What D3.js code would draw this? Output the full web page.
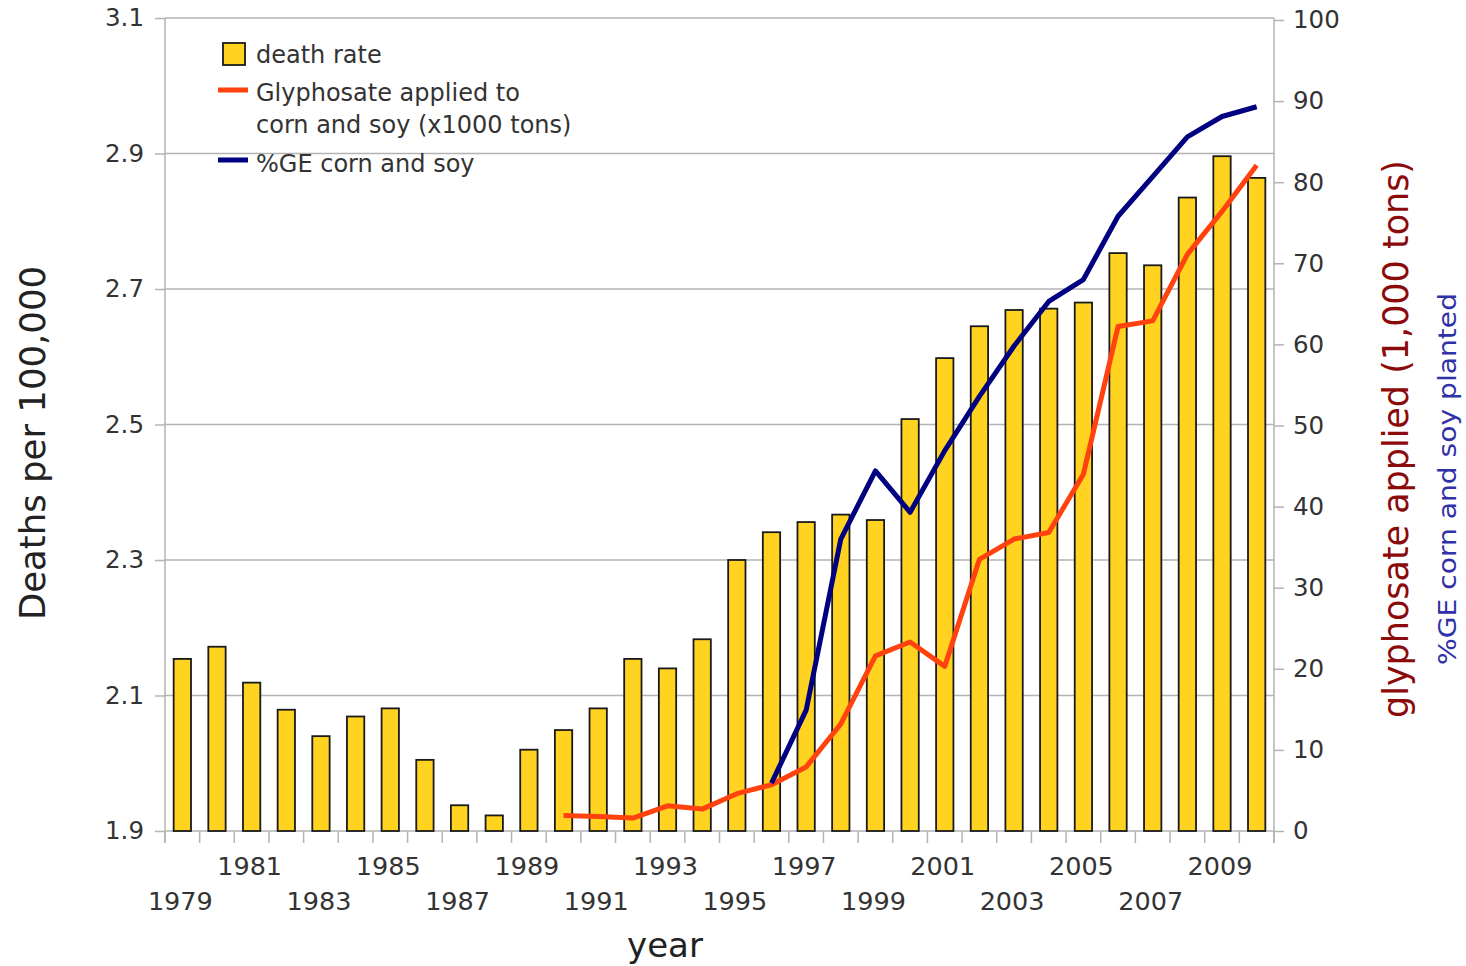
<!DOCTYPE html>
<html>
<head>
<meta charset="utf-8">
<script src="https://cdn.jsdelivr.net/npm/d3@7"></script>
<style>
  html, body { margin: 0; padding: 0; background: #ffffff; }
  svg { display: block; font-family: "DejaVu Sans", sans-serif; }
</style>
</head>
<body>
<svg id="chart" width="1466" height="966"></svg>
<script>
// ---- data ----
const years = d3.range(1979, 2011);
const deathRate = [2.154, 2.172, 2.119, 2.079, 2.040, 2.069, 2.081, 2.005, 1.938, 1.923,
                   2.020, 2.049, 2.081, 2.154, 2.140, 2.183, 2.300, 2.341, 2.356, 2.367,
                   2.359, 2.508, 2.598, 2.645, 2.669, 2.671, 2.680, 2.753, 2.735, 2.835,
                   2.896, 2.864];
const glyphYears = d3.range(1990, 2011);
const glyphosate = [1.9, 1.8, 1.6, 3.1, 2.7, 4.6, 5.7, 7.9, 13.2, 21.6,
                    23.3, 20.3, 33.5, 36.0, 36.8, 44.0, 62.2, 62.9, 71.1, 76.4, 82.1];
const geYears = d3.range(1996, 2011);
const gePercent = [5.9, 14.9, 36.0, 44.4, 39.3, 46.9, 53.6, 59.8, 65.3, 68.0,
                   75.8, 80.7, 85.6, 88.1, 89.3];
const leftTicks = [1.9, 2.1, 2.3, 2.5, 2.7, 2.9, 3.1];
const rightTicks = d3.range(0, 101, 10);
const legendLabels = ["death rate", ["Glyphosate applied to", "corn and soy (x1000 tons)"], "%GE corn and soy"];

// ---- layout ----
const svg = d3.select("#chart");
const L = 165, R = 1274, T = 18, B = 831;
const textCol = "#333333", gridCol = "#b3b3b3";
const barFill = "#ffd320", redCol = "#ff420e", blueCol = "#000080";

const x = d3.scaleBand().domain(years).range([L, R]).paddingInner(0.5).paddingOuter(0.25);
const step = x.step();
const cx = d => x(d) + x.bandwidth() / 2;
const yL = d3.scaleLinear().domain([1.9, 3.1]).range([B, T]);
const yR = d3.scaleLinear().domain([0, 100]).range([B, T + 2]);

// gridlines
svg.append("g").selectAll("line").data(leftTicks).join("line")
  .attr("x1", L).attr("x2", R)
  .attr("y1", d => yL(d)).attr("y2", d => yL(d))
  .attr("stroke", gridCol).attr("stroke-width", 1.5);

// left axis
const gL = svg.append("g").attr("transform", `translate(${L},0)`)
  .call(d3.axisLeft(yL).tickValues(leftTicks).tickSize(10).tickPadding(11).tickFormat(d3.format(".1f")));
gL.select(".domain").attr("stroke", gridCol).attr("stroke-width", 1.5).attr("d", `M0,${T}V${B + 12}`);
gL.selectAll(".tick line").attr("stroke", gridCol).attr("stroke-width", 1.5);
gL.selectAll(".tick text").attr("fill", textCol).style("font-size", "24.5px").style("font-family", "DejaVu Sans");

// right axis
const gR = svg.append("g").attr("transform", `translate(${R},0)`)
  .call(d3.axisRight(yR).tickValues(rightTicks).tickSize(10).tickPadding(9));
gR.select(".domain").attr("stroke", gridCol).attr("stroke-width", 1.5).attr("d", `M0,${T}V${B + 12}`);
gR.selectAll(".tick line").attr("stroke", gridCol).attr("stroke-width", 1.5);
gR.selectAll(".tick text").attr("fill", textCol).style("font-size", "24.5px").style("font-family", "DejaVu Sans");

// x ticks at band boundaries
const bounds = years.map(d => x(d) - step * 0.25).concat([R]);
svg.append("g").selectAll("line").data(bounds).join("line")
  .attr("x1", d => d).attr("x2", d => d).attr("y1", B).attr("y2", B + 12)
  .attr("stroke", gridCol).attr("stroke-width", 1.5);

// x labels (odd years, two rows)
svg.append("g").selectAll("text").data(years.filter(d => (d - 1979) % 2 === 0)).join("text")
  .attr("x", d => cx(d) - 2)
  .attr("y", d => ((d - 1979) % 4 === 2) ? 875 : 910)
  .attr("text-anchor", "middle").attr("fill", textCol)
  .style("font-size", "25.5px")
  .text(d => d);

// bars
svg.append("g").selectAll("rect").data(years).join("rect")
  .attr("x", d => x(d)).attr("width", x.bandwidth())
  .attr("y", (d, i) => yL(deathRate[i]))
  .attr("height", (d, i) => B - yL(deathRate[i]))
  .attr("fill", barFill).attr("stroke", "#1a1a1a").attr("stroke-width", 1.8);

// lines
const line = d3.line().x(d => cx(d[0])).y(d => yR(d[1]));
svg.append("path").datum(glyphYears.map((d, i) => [d, glyphosate[i]]))
  .attr("d", line).attr("fill", "none").attr("stroke", redCol).attr("stroke-width", 5)
  .attr("stroke-linejoin", "round");
svg.append("path").datum(geYears.map((d, i) => [d, gePercent[i]]))
  .attr("d", line).attr("fill", "none").attr("stroke", blueCol).attr("stroke-width", 5)
  .attr("stroke-linejoin", "round");

// legend
const lg = svg.append("g").style("font-size", "24px").attr("fill", textCol);
lg.append("rect").attr("x", 223).attr("y", 43).attr("width", 22).attr("height", 22)
  .attr("fill", barFill).attr("stroke", "#1a1a1a").attr("stroke-width", 1.8);
lg.append("text").attr("x", 256).attr("y", 63).text(legendLabels[0]);
lg.append("line").attr("x1", 218).attr("x2", 248).attr("y1", 90).attr("y2", 90)
  .attr("stroke", redCol).attr("stroke-width", 5);
lg.append("text").attr("x", 256).attr("y", 101).text(legendLabels[1][0]);
lg.append("text").attr("x", 256).attr("y", 133).text(legendLabels[1][1]);
lg.append("line").attr("x1", 218).attr("x2", 248).attr("y1", 160).attr("y2", 160)
  .attr("stroke", blueCol).attr("stroke-width", 5);
lg.append("text").attr("x", 256).attr("y", 172).text(legendLabels[2]);

// axis titles
svg.append("text").attr("transform", "translate(45,443) rotate(-90)")
  .attr("text-anchor", "middle").attr("fill", "#222").style("font-size", "35.5px")
  .text("Deaths per 100,000");
svg.append("text").attr("x", 665).attr("y", 957)
  .attr("text-anchor", "middle").attr("fill", "#222").style("font-size", "34px")
  .text("year");
svg.append("text").attr("transform", "translate(1408,439) rotate(-90)")
  .attr("text-anchor", "middle").attr("fill", "#8b0a0a").style("font-size", "35px")
  .attr("textLength", 558).attr("lengthAdjust", "spacingAndGlyphs")
  .text("glyphosate applied (1,000 tons)");
svg.append("text").attr("transform", "translate(1456,479) rotate(-90)")
  .attr("text-anchor", "middle").attr("fill", "#3030a8").style("font-size", "25px")
  .attr("textLength", 372).attr("lengthAdjust", "spacingAndGlyphs")
  .text("%GE corn and soy planted");
</script>
</body>
</html>
